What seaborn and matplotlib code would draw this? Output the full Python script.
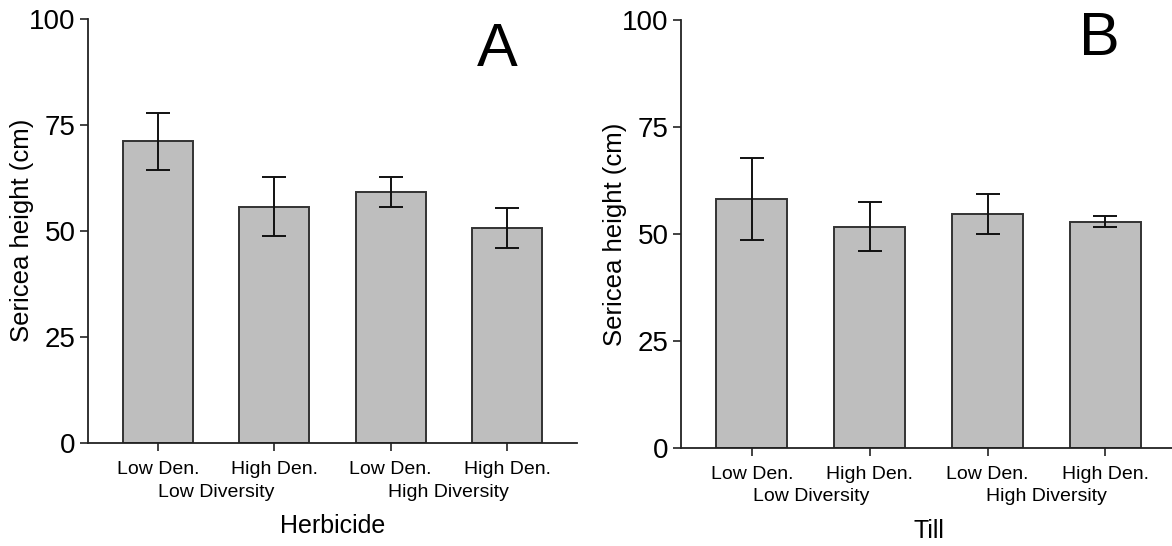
import matplotlib
matplotlib.use("Agg")
import matplotlib.pyplot as plt
import seaborn as sns
import pandas as pd

# Treatment groups (same for both panels)
density = ["Low Den.", "High Den.", "Low Den.", "High Den."]
diversity = ["Low Diversity", "Low Diversity", "High Diversity", "High Diversity"]

# Panel A: herbicide
herb_mean = [71.1, 55.7, 59.1, 50.6]
herb_err = [6.7, 6.9, 3.55, 4.7]

# Panel B: till
till_mean = [58.2, 51.7, 54.7, 52.9]
till_err = [9.6, 5.75, 4.6, 1.3]

yticks = [0, 25, 50, 75, 100]
ylabel = "Sericea height (cm)"

sns.set_theme(style="ticks")
plt.rcParams["font.family"] = ["Liberation Sans", "DejaVu Sans"]

fig = plt.figure(figsize=(11.72, 5.46), dpi=100)
axA = fig.add_axes([0.0751, 0.1886, 0.4172, 0.7775])
axB = fig.add_axes([0.5811, 0.1795, 0.4224, 0.7839])

panels = [
    (axA, herb_mean, herb_err, "Herbicide", "A", (0.837, 0.925), -0.135),
    (axB, till_mean, till_err, "Till", "B", (0.845, 0.955), -0.133),
]

for ax, means, errs, xlabel, letter, letter_pos, ylab_x in panels:
    df = pd.DataFrame({"pos": range(len(means)), "height": means, "err": errs})
    sns.barplot(data=df, x="pos", y="height", ax=ax, color="#bebebe",
                saturation=1, width=0.6, errorbar=None,
                edgecolor="#333333", linewidth=1.4)
    ax.errorbar(df["pos"], df["height"], yerr=df["err"], fmt="none",
                ecolor="#111111", elinewidth=1.4, capsize=8.3, capthick=1.4)

    ax.set_xlim(-0.6, len(means) - 0.4)
    ax.set_ylim(0, 100)
    ax.set_yticks(yticks)
    ax.set_yticklabels([str(t) for t in yticks], fontsize=20)
    ax.set_xticks(range(len(means)))
    ax.set_xticklabels(density, fontsize=14)

    ax.tick_params(axis="both", direction="out", length=6, width=1.2,
                   color="#222222", labelcolor="black")
    ax.tick_params(axis="x", pad=7)
    ax.tick_params(axis="y", pad=3)

    for side in ("top", "right"):
        ax.spines[side].set_visible(False)
    for side in ("left", "bottom"):
        ax.spines[side].set_color("#222222")
        ax.spines[side].set_linewidth(1.3)

    # Diversity group labels centred under each pair of bars
    groups = []
    for i, g in enumerate(diversity):
        if not groups or groups[-1][0] != g:
            groups.append([g, [i]])
        else:
            groups[-1][1].append(i)
    for g, idx in groups:
        xc = sum(idx) / len(idx)
        ax.annotate(g, xy=(xc, 0), xycoords=("data", "axes fraction"),
                    xytext=(0, -49), textcoords="offset pixels",
                    ha="center", va="center", fontsize=14, color="black")

    ax.set_xlabel(xlabel, fontsize=18, labelpad=26, color="black")
    ax.set_ylabel(ylabel, fontsize=18.5, color="black", va="center")
    ax.yaxis.set_label_coords(ylab_x, 0.5)

    ax.text(letter_pos[0], letter_pos[1], letter, transform=ax.transAxes,
            ha="center", va="center", fontsize=44, color="black")

fig.savefig("out.png", dpi=100)
